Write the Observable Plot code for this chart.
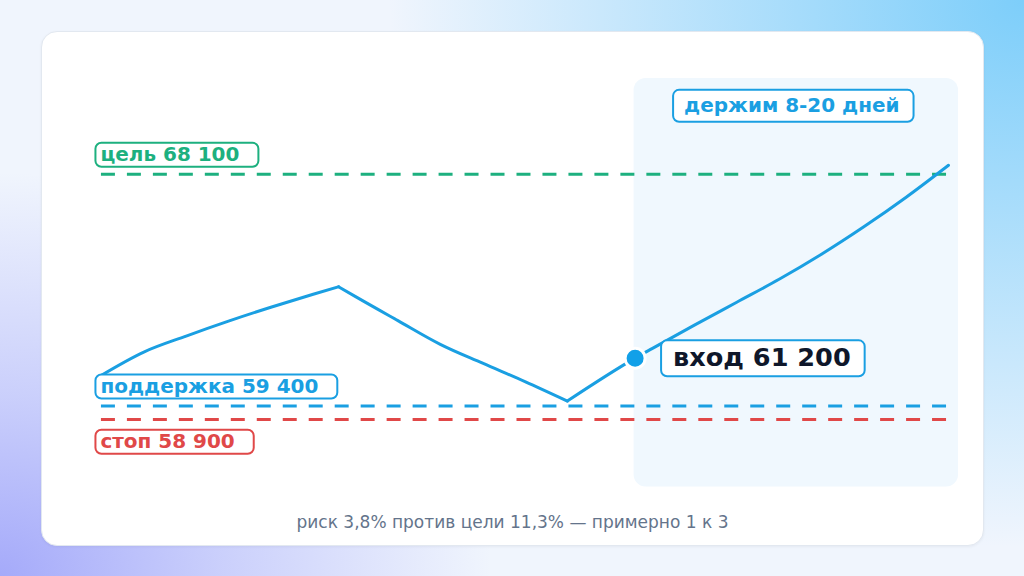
<!DOCTYPE html>
<html>
<head>
<meta charset="utf-8">
<script src="https://cdn.jsdelivr.net/npm/d3@7"></script>
<script src="https://cdn.jsdelivr.net/npm/@observablehq/plot@0.6"></script>
<style>
  html, body { margin: 0; padding: 0; }
  body {
    width: 1024px; height: 576px; overflow: hidden; position: relative;
    font-family: "DejaVu Sans", sans-serif;
    background:
      radial-gradient(ellipse 62% 95% at 100% 0%, rgba(125,206,250,1) 0%, rgba(125,206,250,0.55) 45%, rgba(125,206,250,0) 100%),
      radial-gradient(ellipse 48% 70% at 0% 100%, rgba(165,170,250,1) 0%, rgba(165,170,250,0.5) 45%, rgba(165,170,250,0) 100%),
      #f0f5fd;
  }
  #card {
    position: absolute; left: 41px; top: 31px; width: 941px; height: 513px;
    background: #ffffff; border: 1px solid #e2e8f0; border-radius: 16px;
    box-shadow: 0 1px 3px rgba(15,23,42,0.05);
  }
  #chart { position: absolute; left: -1px; top: -1px; }
  #caption {
    position: absolute; left: 0; right: 0; top: 478px; height: 24px; line-height: 24px;
    text-align: center; color: #64748b; font-size: 17px; font-family: "DejaVu Sans", sans-serif;
  }
</style>
</head>
<body>
<div id="card">
  <div id="chart"></div>
  <div id="caption"></div>
</div>
<script>
// ---- data ----
const days   = [0, 2, 4, 6, 8, 10, 11.2, 12, 14, 16, 18, 20, 22, 25.2, 26, 28, 30, 32, 34, 36, 38, 40];
const prices = [60560, 61430, 62030, 62590, 63110, 63600, 63880, 63510, 62610, 61720, 61010, 60320, 59590, 61200, 61560, 62440, 63300, 64160, 65100, 66130, 67240, 68440];

const levelNames  = ["цель", "поддержка", "стоп"];
const levelValues = [68100, 59400, 58900];

const entryName  = "вход";
const entryDay   = 25.2;
const entryPrice = 61200;

const holdLabel = "держим 8-20 дней";
const holdStart = 25.2;
const holdEnd   = 40;

const captionText = "риск 3,8% против цели 11,3% — примерно 1 к 3";

// ---- styles ----
const BLUE = "#1a9fe2", GREEN = "#1db07f", RED = "#e04848", DARK = "#0f172a";
const levelColor = {"цель": GREEN, "поддержка": BLUE, "стоп": RED};

const fmt = v => d3.format(",")(v).replace(/,/g, " ");

// split the price path into monotone legs (sharp turns at local extrema)
const series = [];
let seg = 0;
days.forEach((d, i) => {
  series.push({day: d, price: prices[i], seg});
  if (i > 0 && i < days.length - 1) {
    const a = prices[i] - prices[i - 1], b = prices[i + 1] - prices[i];
    if (a * b < 0) { seg++; series.push({day: d, price: prices[i], seg}); }
  }
});

const levels = levelNames.map((n, i) => ({name: n, value: levelValues[i], label: `${n} ${fmt(levelValues[i])}`}));
const above = levels.filter(d => d.name !== "стоп");
const below = levels.filter(d => d.name === "стоп");
const entry = [{day: entryDay, price: entryPrice, label: `${entryName} ${fmt(entryPrice)}`}];
const xDomain = [days[0], days[days.length - 1]];
const yDomain = [56363, 71700];
const hold = [{start: holdStart, end: holdEnd, mid: (holdStart + holdEnd) / 2, label: holdLabel}];

const chart = Plot.plot({
  width: 943, height: 470,
  marginLeft: 60, marginRight: 35, marginTop: 47, marginBottom: 14,
  x: {domain: xDomain, axis: null},
  y: {domain: yDomain, axis: null},
  style: {background: "transparent", fontFamily: "DejaVu Sans, sans-serif", overflow: "visible"},
  marks: [
    Plot.rect(hold, {x1: "start", x2: "end", y1: yDomain[0], y2: yDomain[1], fill: "#f0f8fe", rx: 12, insetLeft: -1, insetRight: -10}),
    Plot.ruleY(levels, {y: "value", x1: xDomain[0], x2: xDomain[1], stroke: d => levelColor[d.name], strokeWidth: 3, strokeDasharray: "14 12"}),
    Plot.line(series, {x: "day", y: "price", z: "seg", curve: "monotone-x", stroke: BLUE, strokeWidth: 3, strokeLinejoin: "round", strokeLinecap: "round"}),
    Plot.dot(entry, {x: "day", y: "price", r: 10, fill: "#12a0e8", stroke: "white", strokeWidth: 3}),
    Plot.text(above, {x: xDomain[0], y: "value", text: "label", textAnchor: "start", dx: -1, dy: -20, fill: d => levelColor[d.name], fontWeight: "bold", fontSize: 20, className: "lbl-left"}),
    Plot.text(below, {x: xDomain[0], y: "value", text: "label", textAnchor: "start", dx: -1, dy: 22, fill: d => levelColor[d.name], fontWeight: "bold", fontSize: 20, className: "lbl-left"}),
    Plot.text(hold, {x: "mid", text: "label", frameAnchor: "top", lineAnchor: "middle", dy: 27, fill: BLUE, fontWeight: "bold", fontSize: 20, className: "lbl-hold"}),
    Plot.text(entry, {x: "day", y: "price", text: "label", textAnchor: "start", dx: 38, fill: DARK, fontWeight: "bold", fontSize: 25.6, className: "lbl-entry"})
  ]
});
document.getElementById("chart").appendChild(chart);
document.getElementById("caption").textContent = captionText;

// rounded boxes behind labels
function boxes(cls, padL, padR, h, strokeFn) {
  chart.querySelectorAll(`g.${cls} text`).forEach(t => {
    const b = t.getBBox();
    const tr = t.getAttribute("transform");
    const r = document.createElementNS("http://www.w3.org/2000/svg", "rect");
    const cy = b.y + b.height / 2 + 1;
    r.setAttribute("x", b.x - padL);
    r.setAttribute("y", cy - h / 2);
    r.setAttribute("width", b.width + padL + padR);
    r.setAttribute("height", h);
    r.setAttribute("rx", 6);
    r.setAttribute("fill", "white");
    r.setAttribute("stroke", strokeFn(t));
    r.setAttribute("stroke-width", 2);
    if (tr) r.setAttribute("transform", tr);
    t.parentNode.insertBefore(r, t);
  });
}
boxes("lbl-left", 5, 19, 24, t => t.getAttribute("fill"));
boxes("lbl-hold", 11, 14, 32, () => BLUE);
boxes("lbl-entry", 12, 14, 36, () => BLUE);
</script>
</body>
</html>
